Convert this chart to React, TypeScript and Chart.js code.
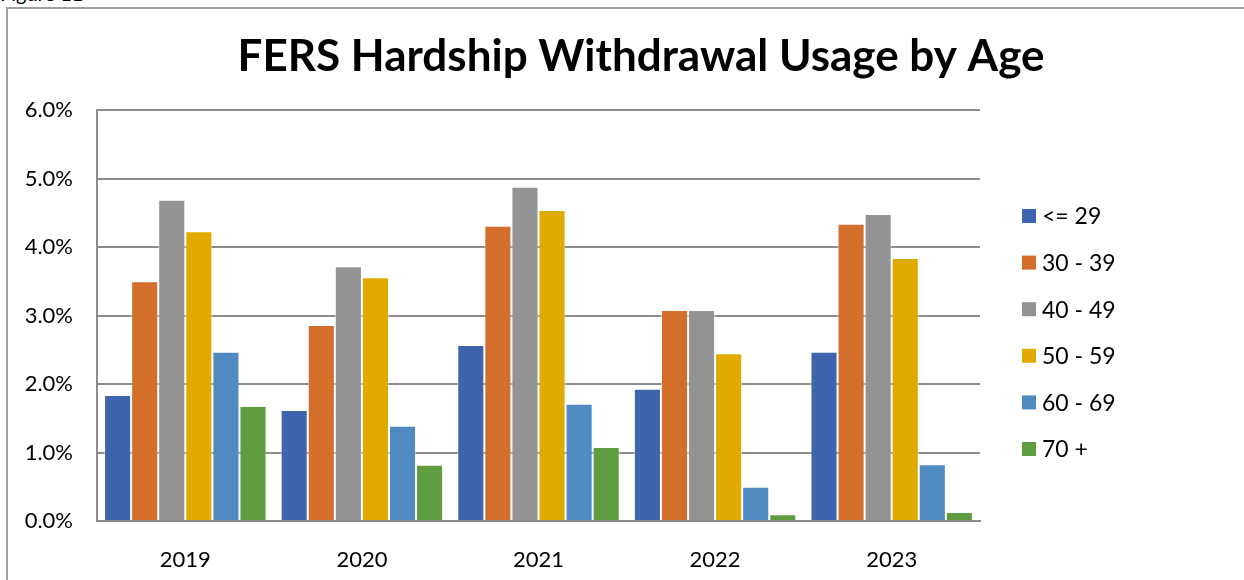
import React, { useEffect, useRef } from "react";
import { Chart, registerables } from "chart.js";

Chart.register(...registerables);

const TITLE = "FERS Hardship Withdrawal Usage by Age";
const FIGURE_LABEL = "Figure 11";
const years = ["2019", "2020", "2021", "2022", "2023"];
const ageGroups = ["<= 29", "30 - 39", "40 - 49", "50 - 59", "60 - 69", "70 +"];
const colors = ["#3d64ad", "#d36e2b", "#939393", "#e0aa00", "#4f8ac0", "#5f9b3f"];

// percent values per age group, in order of years
const under29 = [1.84, 1.62, 2.57, 1.93, 2.47];
const age30to39 = [3.5, 2.86, 4.31, 3.08, 4.34];
const age40to49 = [4.69, 3.72, 4.88, 3.08, 4.48];
const age50to59 = [4.23, 3.56, 4.54, 2.45, 3.84];
const age60to69 = [2.47, 1.39, 1.71, 0.5, 0.83];
const age70plus = [1.68, 0.82, 1.08, 0.1, 0.13];
const seriesValues = [under29, age30to39, age40to49, age50to59, age60to69, age70plus];

const yTicks = [0, 1, 2, 3, 4, 5, 6];

const FONT = "Lato, 'Open Sans', sans-serif";

const overlayPlugin = {
  id: "overlay",
  afterDraw(chart: any) {
    const ctx = chart.ctx as CanvasRenderingContext2D;
    ctx.save();
    ctx.fillStyle = "#000";
    ctx.font = `bold 44px ${FONT}`;
    ctx.textAlign = "center";
    ctx.textBaseline = "alphabetic";
    ctx.fillText(TITLE, 641, 71);

    ctx.font = `23px ${FONT}`;
    ctx.textAlign = "left";
    ctx.textBaseline = "middle";
    chart.data.datasets.forEach((ds: any, i: number) => {
      const y = 216 + i * 46.6;
      ctx.fillStyle = ds.backgroundColor;
      ctx.fillRect(1022, y - 7, 14, 14);
      ctx.fillStyle = "#000";
      ctx.fillText(ds.label, 1042, y + 1);
    });
    ctx.restore();
  },
};

export default function App() {
  const canvasRef = useRef<HTMLCanvasElement | null>(null);

  useEffect(() => {
    let chart: Chart | null = null;
    let cancelled = false;
    const create = () => {
      if (cancelled || !canvasRef.current) return;
      chart = new Chart(canvasRef.current, {
        type: "bar",
        data: {
          labels: years,
          datasets: ageGroups.map((label, i) => ({
            label,
            data: seriesValues[i],
            backgroundColor: colors[i],
            borderColor: "rgba(255,255,255,0.55)",
            borderWidth: 1,
            categoryPercentage: 0.92,
            barPercentage: 1.0,
          })),
        },
        options: {
          responsive: false,
          animation: false,
          devicePixelRatio: 1,
          layout: { padding: { top: 110, left: 0, right: 264, bottom: 0 } },
          plugins: {
            legend: { display: false },
            title: { display: false },
            tooltip: { enabled: false },
          },
          scales: {
            x: {
              grid: { display: false },
              border: { display: true, color: "#8c8c8c", width: 2 },
              ticks: { color: "#000", font: { family: FONT, size: 22 }, padding: 18 },
              afterFit: (scale: any) => {
                scale.height = 59;
              },
            },
            y: {
              min: 0,
              max: 6,
              afterBuildTicks: (scale: any) => {
                scale.ticks = yTicks.map((v) => ({ value: v }));
              },
              grid: { color: "#8c8c8c", lineWidth: 2, drawTicks: false },
              border: { display: true, color: "#8c8c8c", width: 2 },
              ticks: {
                color: "#000",
                font: { family: FONT, size: 22 },
                padding: 24,
                callback: (v: any) => Number(v).toFixed(1) + "%",
              },
              afterFit: (scale: any) => {
                scale.width = 97;
              },
            },
          },
        },
        plugins: [overlayPlugin],
      });
    };
    if ((document as any).fonts && (document as any).fonts.load) {
      Promise.all([
        (document as any).fonts.load(`22px Lato`),
        (document as any).fonts.load(`bold 44px Lato`),
      ])
        .catch(() => {})
        .then(create);
    } else {
      create();
    }
    return () => {
      cancelled = true;
      if (chart) chart.destroy();
    };
  }, []);

  return (
    <div
      style={{
        position: "absolute",
        left: 0,
        top: 0,
        width: 1244,
        height: 580,
        overflow: "hidden",
        background: "#fff",
      }}
    >
      <div
        style={{
          position: "absolute",
          left: 0,
          top: -17,
          fontFamily: FONT,
          fontSize: 20,
          color: "#000",
          lineHeight: "20px",
        }}
      >
        {FIGURE_LABEL}
      </div>
      <div
        style={{
          position: "absolute",
          left: 6,
          top: 7,
          right: 0,
          bottom: 0,
          borderLeft: "2px solid #a0a0a0",
          borderTop: "2px solid #a0a0a0",
        }}
      />
      <canvas
        ref={canvasRef}
        width={1244}
        height={580}
        style={{ position: "absolute", left: 0, top: 0, width: 1244, height: 580 }}
      />
    </div>
  );
}
